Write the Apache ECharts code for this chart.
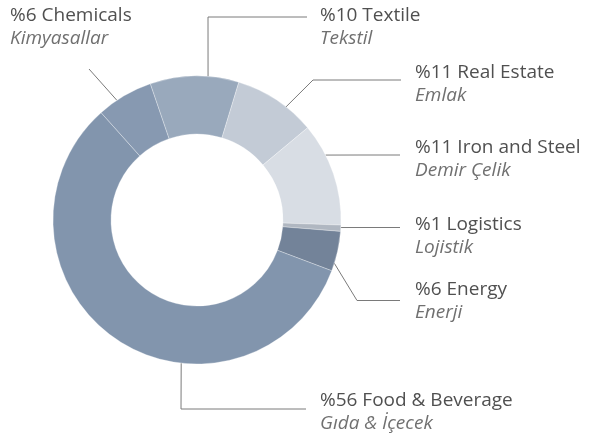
<!DOCTYPE html>
<html>
<head>
<meta charset="utf-8">
<script src="https://cdn.jsdelivr.net/npm/echarts@6/dist/echarts.min.js"></script>
<style>
    html, body { margin: 0; padding: 0; background: #fff; }
    #chart { width: 590px; height: 439px; }
</style>
</head>
<body>
<div id="chart"></div>
<script>
    // slices go clockwise from the Chemicals / Food boundary
    const categories = ['Chemicals', 'Textile', 'Real Estate', 'Iron and Steel', 'Logistics', 'Energy', 'Food & Beverage'];
    const turkishNames = ['Kimyasallar', 'Tekstil', 'Emlak', 'Demir Çelik', 'Lojistik', 'Enerji', 'Gıda & İçecek'];
    const percentLabels = ['%6', '%10', '%11', '%11', '%1', '%6', '%56'];
    // shares as measured from the slice angles in the picture
    const sliceShares = [6.4, 10, 9.3, 11.7, 0.7, 4.5, 58];
    const sliceColors = ['#8799b1', '#99a9bc', '#c3cbd6', '#d8dde4', '#b0b7c1', '#738399', '#8295ad'];

    const cx = 197, cy = 220, outerR = 144;

    // where each label sits and how its leader line bends
    const labelSpots = [
        { x: 10, y: 4, angle: 123.8, knee: [89, 69], endX: 89 },
        { x: 320, y: 4, angle: 85.6, knee: [208, 17], endX: 307 },
        { x: 415, y: 61, angle: 51.8, knee: [313, 80], endX: 401 },
        { x: 415, y: 136, angle: 26.8, knee: [360, 155], endX: 400 },
        { x: 415, y: 213, angle: -3, knee: [370, 227.5], endX: 400 },
        { x: 415, y: 278, angle: -17.5, knee: [357, 300.5], endX: 400 },
        { x: 320, y: 389, angle: -96.3, knee: [181, 409], endX: 306 }
    ];

    let mChart = echarts.init(document.getElementById('chart'));

    let options = {
        animation: false,
        series: [
            {
                type: 'pie',
                center: [cx, cy],
                radius: [86, outerR],
                startAngle: 131.8,
                clockwise: true,
                avoidLabelOverlap: false,
                emphasis: { disabled: true },
                itemStyle: {
                    borderColor: 'rgba(255,255,255,0.5)',
                    borderWidth: 0.6
                },
                data: categories.map((name, i) => ({
                    name: name,
                    value: sliceShares[i],
                    itemStyle: { color: sliceColors[i] }
                })),
                label: {
                    show: true,
                    position: 'outside',
                    formatter: (p) => `{a|${percentLabels[p.dataIndex]} ${p.name}}\n{b|${turkishNames[p.dataIndex]}}`,
                    rich: {
                        a: {
                            fontFamily: 'Open Sans',
                            fontSize: 19,
                            lineHeight: 23,
                            color: '#505050'
                        },
                        b: {
                            fontFamily: 'Open Sans',
                            fontSize: 19,
                            fontStyle: 'italic',
                            lineHeight: 23,
                            color: '#707070'
                        }
                    }
                },
                labelLine: {
                    show: true,
                    lineStyle: {
                        color: '#7a7a7a',
                        width: 1
                    }
                },
                labelLayout: function (params) {
                    let s = labelSpots[params.dataIndex];
                    let a = s.angle * Math.PI / 180;
                    let start = [cx + outerR * Math.cos(a), cy - outerR * Math.sin(a)];
                    return {
                        x: s.x,
                        y: s.y,
                        align: 'left',
                        verticalAlign: 'top',
                        labelLinePoints: [start, s.knee, [s.endX, s.knee[1]]]
                    };
                }
            }
        ]
    };
    mChart.setOption(options);
</script>
</body>
</html>
